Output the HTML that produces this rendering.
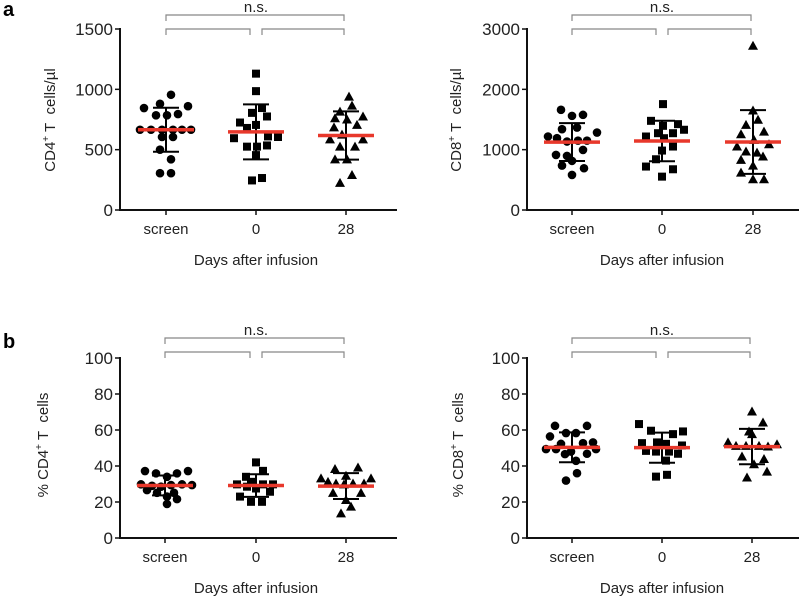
<!DOCTYPE html>
<html><head><meta charset="utf-8"><style>
html,body{margin:0;padding:0;background:#fff;}
svg{display:block;font-family:"Liberation Sans",Arial,sans-serif;}
</style></head><body>
<svg id="fig" width="800" height="599" viewBox="0 0 800 599"></svg>
<script>
const categories = ["screen","0","28"];
// Panel a-left: CD4 counts
const cd4CountScreen = [845,955,880,860,785,785,795,665,665,665,665,665,665,605,605,500,420,305,305];
const cd4CountDay0 = [1130,985,725,805,845,775,705,680,595,610,605,525,525,535,455,245,265];
const cd4CountDay28 = [940,865,815,775,760,750,705,685,625,585,585,525,525,420,420,290,225];
// Panel a-right: CD8 counts
const cd8CountScreen = [1660,1560,1577,1284,1218,1190,1135,1150,1150,1367,1340,913,897,996,736,814,692,581];
const cd8CountDay0 = [1755,1478,1395,1423,1330,1273,1218,1273,1190,1052,985,841,720,675,553];
const cd8CountDay28 = [2723,1650,1495,1410,1300,1256,1162,1052,1090,969,952,886,830,736,620,509,509];
// Panel b-left: % CD4
const cd4PctScreen = [37.2,37.2,35.9,35.9,34,29.8,29,28.5,29.4,29.8,29.4,26.6,25.1,25.1,23,21.6,18.9];
const cd4PctDay0 = [42,34,37.3,29.8,31.2,29.8,29.8,28.5,27.5,25.7,23,20.1,20.1];
const cd4PctDay28 = [38.3,39.2,33.1,33.1,31.2,34.6,30.3,29.8,30.3,30.3,25.1,25.1,21.1,17.4,13.7];
// Panel b-right: % CD8
const cd8PctScreen = [62.3,62.3,58.3,58.3,56.4,52.3,52.7,53.1,49.4,49.4,49.4,48,46.6,46.8,42.9,36,31.9];
const cd8PctDay0 = [63.3,59.6,57.7,59.2,52.7,53.1,52.3,51.4,48.4,48,48,46.8,43,34.1,35.1];
const cd8PctDay28 = [70.3,64.2,59.2,57.7,53.1,52.1,51.2,51.2,51.2,50.8,45.3,43.9,41,36.9,33.6];
// jitter (horizontal spread within category)
const jitA1 = [[-22,5,-6,22,-10,1,12,-26,-15,-4,7,16,25,-4,7,-6,5,-6,5],[0,0,-16,-4,6,11,0,-9,-22,12,22,-9,1,11,0,-4,6],[3,6,-6,17,-11,1,11,-12,-4,-16,17,-6,9,-11,1,6,-6]];
const jitA2 = [[-11,0,11,25,-24,-15,-5,6,15,5,-10,-16,-5,11,-10,0,12,0],[1,-11,1,16,22,11,-16,-4,2,11,0,-6,-16,11,0],[0,0,5,-7,11,-12,1,-16,16,-7,4,10,-12,0,-12,0,11]];
const jitB1 = [[-20,23,-9,12,2,-24,-13,-4,6,17,27,-18,-8,9,2,12,2],[0,-10,7,-19,-5,7,17,-9,0,14,-16,-5,6],[-11,12,-25,25,-18,0,-10,-2,7,18,-13,15,0,5,-5]];
const jitB2 = [[-17,15,-6,4,-22,-11,11,21,-26,-16,24,-1,-7,15,4,5,-6],[-23,-11,11,21,-20,-5,4,20,-16,-6,7,16,4,-6,5],[0,11,-3,0,-24,25,-16,-6,7,16,-10,12,2,15,-5]];
const ticksA1 = [0,500,1000,1500];
const ticksA2 = [0,1000,2000,3000];
const ticksPct = [0,20,40,60,80,100];

const NS = "http://www.w3.org/2000/svg";
const svg = document.getElementById("fig");
function mk(tag, attrs, parent, text){
  const e = document.createElementNS(NS, tag);
  for (const k in attrs) e.setAttribute(k, attrs[k]);
  if (text !== undefined) e.textContent = text;
  (parent||svg).appendChild(e);
  return e;
}
function mean(a){return a.reduce((s,v)=>s+v,0)/a.length;}
function sd(a){const m=mean(a);return Math.sqrt(a.reduce((s,v)=>s+(v-m)*(v-m),0)/(a.length-1));}

function panel(p){
  const g = mk("g",{});
  
  
  const y = v => p.y0 - (v - 0) / p.max * (p.y0 - p.yTop);
  const x = i => p.cx[i];
  const ya = mk("line",{x1:p.ax,y1:p.yTop-1,x2:p.ax,y2:p.y0+1,stroke:"#111","stroke-width":2},g);
  
  
  const xa = mk("line",{x1:p.ax-1,y1:p.y0,x2:p.xEnd,y2:p.y0,stroke:"#111","stroke-width":2},g);
  
  
  p.ticks.forEach(t=>{
    mk("line",{x1:p.ax-5,y1:y(t),x2:p.ax,y2:y(t),stroke:"#111","stroke-width":1.5},g);
    const tl = mk("text",{x:p.ax-7,y:y(t)+6,"text-anchor":"end","font-size":17,fill:"#222"},g,String(t));
    
    
  });
  categories.forEach((c,i)=>{
    mk("line",{x1:x(i),y1:p.y0,x2:x(i),y2:p.y0+5,stroke:"#111","stroke-width":1.5},g);
    const cl = mk("text",{x:x(i),y:p.y0+24,"text-anchor":"middle","font-size":15,fill:"#222"},g,c);
    
    
  });
  const xt = mk("text",{x:p.cx[1],y:p.y0+55,"text-anchor":"middle","font-size":15,fill:"#222"},g,"Days after infusion");
  
  
  const yt = mk("text",{x:0,y:0,"text-anchor":"middle","font-size":15,fill:"#222",transform:`translate(${p.ylx},${p.yly}) rotate(-90)`},g);
  
  
  mk("tspan",{},yt,p.ylab1);
  mk("tspan",{dy:-6,"font-size":10},yt,"+");
  mk("tspan",{dy:6},yt," T\u00a0\u00a0cells" + p.ylab2);
  const bc = "#888";
  const b1 = p.bTop, b2 = p.bTop+14;
  const br = mk("path",{d:`M${x(0)},${b1+6}V${b1}H${x(2)-2}V${b1+6} M${x(0)},${b2+6}V${b2}H${x(1)-6}V${b2+6} M${x(1)+6},${b2+6}V${b2}H${x(2)-2}V${b2+6}`,fill:"none",stroke:bc,"stroke-width":1.2},g);
  
  
  const ns = mk("text",{x:p.cx[1],y:b1-3,"text-anchor":"middle","font-size":15,fill:"#222"},g,"n.s.");
  
  
  p.series.forEach((vals,i)=>{
    vals.forEach((v,j)=>{
      const px = x(i)+p.jit[i][j], py = y(v);
      let m;
      if (i===0) m = mk("circle",{cx:px,cy:py,r:4.3,fill:"#000"},g);
      else if (i===1) m = mk("rect",{x:px-4,y:py-4,width:8,height:8,fill:"#000"},g);
      else m = mk("polygon",{points:`${px},${py-5} ${px+5},${py+4} ${px-5},${py+4}`,fill:"#000"},g);
      
      
    });
    const m = mean(vals), s = sd(vals);
    const eb = mk("path",{d:`M${x(i)},${y(m+s)}V${y(m-s)} M${x(i)-13},${y(m+s)}H${x(i)+13} M${x(i)-13},${y(m-s)}H${x(i)+13}`,stroke:"#000","stroke-width":2,fill:"none"},g);
    
    
    const ml = mk("line",{x1:x(i)-28,y1:y(m),x2:x(i)+28,y2:y(m),stroke:"#e8382b","stroke-width":3.5},g);
    
    
  });
}

panel({name:"panel-a-cd4-count",ax:120,xEnd:397,yTop:29,y0:210,max:1500,ticks:ticksA1,cx:[166,256,346],
  ylx:55,yly:120,ylab1:"CD4",ylab2:"/\u00b5l",bTop:15,series:[cd4CountScreen,cd4CountDay0,cd4CountDay28],jit:jitA1});
panel({name:"panel-a-cd8-count",ax:527,xEnd:799,yTop:29,y0:210,max:3000,ticks:ticksA2,cx:[572,662,753],
  ylx:461,yly:120,ylab1:"CD8",ylab2:"/\u00b5l",bTop:15,series:[cd8CountScreen,cd8CountDay0,cd8CountDay28],jit:jitA2});
panel({name:"panel-b-cd4-percent",ax:120,xEnd:397,yTop:358,y0:538,max:100,ticks:ticksPct,cx:[165,256,346],
  ylx:48,yly:445,ylab1:"% CD4",ylab2:"",bTop:338,series:[cd4PctScreen,cd4PctDay0,cd4PctDay28],jit:jitB1});
panel({name:"panel-b-cd8-percent",ax:527,xEnd:799,yTop:358,y0:538,max:100,ticks:ticksPct,cx:[572,662,752],
  ylx:463,yly:445,ylab1:"% CD8",ylab2:"",bTop:338,series:[cd8PctScreen,cd8PctDay0,cd8PctDay28],jit:jitB2});

const la = mk("text",{x:3,y:16,"font-size":20,"font-weight":"bold",fill:"#000"},svg,"a");


const lb = mk("text",{x:3,y:348,"font-size":20,"font-weight":"bold",fill:"#000"},svg,"b");


</script>
</body></html>
